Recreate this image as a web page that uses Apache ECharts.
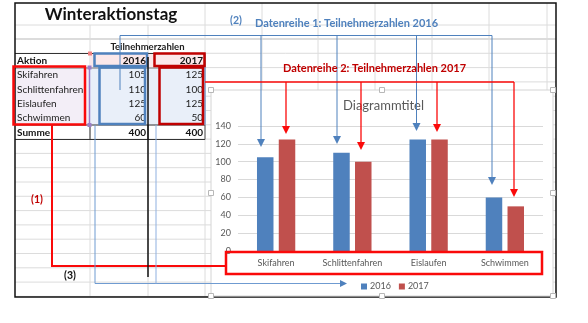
<!DOCTYPE html>
<html><head><meta charset="utf-8">
<script src="https://cdn.jsdelivr.net/npm/echarts@6/dist/echarts.min.js"></script>
<style>html,body{margin:0;padding:0;background:#fff}#c{width:588px;height:323px}</style>
</head><body><div id="c"></div>
<script>
const categories = ['Skifahren', 'Schlittenfahren', 'Eislaufen', 'Schwimmen'];
const years = ['2016', '2017'];
const values2016 = [105, 110, 125, 60];
const values2017 = [125, 100, 125, 50];
const totals = [400, 400];
const tableTitle = 'Winteraktionstag';
const headerTitle = 'Teilnehmerzahlen';
const chartTitle = 'Diagrammtitel';
const note1 = 'Datenreihe 1: Teilnehmerzahlen 2016';
const note2 = 'Datenreihe 2: Teilnehmerzahlen 2017';

const FONT = 'Lato, "Open Sans", sans-serif';
const BLUE = '#4f81bd', RED = '#c0504d', DRED = '#c00000', BRIGHT = 'rgb(250,10,10)';
const G = [];
let uid = 0;
function line(pts, stroke, w, z) { G.push({type:'polyline', id:'e'+(uid++), z:z, silent:true, shape:{points:pts}, style:{stroke:stroke, lineWidth:w, fill:'none'}}); }
function rect(x, y, w, h, st, z) { G.push({type:'rect', id:'e'+(uid++), z:z, silent:true, shape:{x:x, y:y, width:w, height:h}, style:st}); }
function text(t, x, y, st, z) { G.push({type:'text', id:'e'+(uid++), z:z, silent:true, x:x, y:y, style:Object.assign({text:t, fontFamily:FONT, verticalAlign:'middle'}, st)}); }
function tri(pts, col, z) { G.push({type:'polygon', id:'e'+(uid++), z:z, silent:true, shape:{points:pts}, style:{fill:col, stroke:'none'}}); }
function arrow(x, tip, col, z) { tri([[x-4, tip-8],[x+4, tip-8],[x, tip]], col, z); }

// spreadsheet gridlines
const hy = [25]; for (let y = 39; y < 297; y += 14.3) hy.push(y);
hy.forEach((y, i) => line([[15, y],[556, y]], '#dcdcdc', i === 1 ? 2 : 1, -9));
[90, 148].forEach(x => line([[x, 25],[x, 297]], '#dcdcdc', 1, -9));
[205, 262, 318, 375, 432, 489, 547].forEach(x => line([[x, 3],[x, 297]], '#dcdcdc', 1, -9));

// table fills
rect(90, 53.5, 115, 14.5, {fill:'#fbe8ea'}, -8);
rect(15, 68, 75, 57, {fill:'#f3eef7'}, -8);
rect(90, 68, 115, 57, {fill:'#e9eff9'}, -8);

// table borders
line([[15, 53.5],[205, 53.5]], '#333', 1, -7);
line([[15, 68],[205, 68]], '#777', 1, -7);
line([[15, 125],[205, 125]], '#333', 1, -7);
line([[15, 139.5],[205, 139.5]], '#333', 1, -7);
line([[90, 125],[90, 139.5]], '#333', 1, -7);
line([[148, 125],[148, 139.5]], '#333', 1, -7);
line([[205, 53.5],[205, 139.5]], '#555', 1, -7);
line([[89.5, 67],[89.5, 125]], '#9b7fc8', 1.5, -7);
line([[205, 67],[205, 125]], '#8fb0e0', 1.5, -7);
rect(87.5, 123, 4, 4, {fill:'#9b7fc8'}, -7);
rect(87.5, 65.5, 4, 4, {fill:'#9b7fc8'}, -7);
rect(88, 51.5, 4, 4, {fill:'#f08080'}, -7);

// table texts
text(tableTitle, 111, 15, {fontSize:17, fontWeight:'bold', fill:'#111', align:'center'}, -6);
text(headerTitle, 147.5, 46.5, {fontSize:9.5, fontWeight:'bold', fill:'#222', align:'center'}, -6);
text('Aktion', 17, 61, {fontSize:10, fontWeight:'bold', fill:'#111'}, -6);
text(years[0], 146, 61, {fontSize:10, fontWeight:'bold', fill:'#111', align:'right'}, -6);
text(years[1], 203, 61, {fontSize:10, fontWeight:'bold', fill:'#111', align:'right'}, -6);
categories.forEach((c, i) => {
  const y = 75.2 + i * 14.3;
  text(c, 17, y, {fontSize:10, fill:'#222'}, -6);
  text(String(values2016[i]), 146, y, {fontSize:10, fill:'#222', align:'right'}, -6);
  text(String(values2017[i]), 203, y, {fontSize:10, fill:'#222', align:'right'}, -6);
});
text('Summe', 17, 132.5, {fontSize:10, fontWeight:'bold', fill:'#111'}, -6);
text(String(totals[0]), 146, 132.5, {fontSize:10, fontWeight:'bold', fill:'#111', align:'right'}, -6);
text(String(totals[1]), 203, 132.5, {fontSize:10, fontWeight:'bold', fill:'#111', align:'right'}, -6);

// outer frame
rect(15, 3, 541, 294, {fill:'none', stroke:'#111', lineWidth:1.5}, -2);

// chart box
rect(211, 90, 342, 206, {fill:'#fff', stroke:'#d4d4d4', lineWidth:1}, -1);
[[211,90],[382,90],[553,90],[211,193],[553,193],[211,296],[382,296],[553,296]].forEach(p =>
  rect(p[0]-2.5, p[1]-2.5, 5, 5, {fill:'#fff', stroke:'#b8b8b8', lineWidth:1}, -1));

// annotations (1)
const AZ = 20;
rect(13.5, 66.5, 71.5, 58, {fill:'none', stroke:BRIGHT, lineWidth:2.5}, AZ);
line([[52, 125],[52, 266],[226, 266]], BRIGHT, 2, AZ);
rect(226, 252, 316, 22, {fill:'none', stroke:BRIGHT, lineWidth:2.5}, AZ);
text('(1)', 31, 200, {fontSize:10.5, fontWeight:'bold', fill:DRED}, AZ);

// annotations (2) blue series 2016
rect(94.5, 53.5, 52.5, 12.5, {fill:'none', stroke:BLUE, lineWidth:2.5}, AZ);
rect(99.5, 67.5, 45.5, 56.5, {fill:'none', stroke:BLUE, lineWidth:2.5}, AZ);
line([[120, 90],[120, 35.5],[492, 35.5]], BLUE, 1, AZ);
[[261,147],[337,144],[416.5,131],[492,185]].forEach(a => { line([[a[0],35.5],[a[0],a[1]-6]], BLUE, 1, AZ); arrow(a[0], a[1], BLUE, AZ); });
text('(2)', 230, 20.5, {fontSize:10.5, fontWeight:'bold', fill:BLUE}, AZ);
text(note1, 255, 23, {fontSize:11, fontWeight:'bold', fill:BLUE}, AZ);

// annotations red series 2017
rect(154.5, 53.5, 50, 12.5, {fill:'none', stroke:DRED, lineWidth:2.5}, AZ);
rect(159.5, 67.5, 43.5, 56.5, {fill:'none', stroke:DRED, lineWidth:2.5}, AZ);
line([[205, 82],[514, 82]], BRIGHT, 1.3, AZ);
[[286,134],[361,150],[437,132],[514,197]].forEach(a => { line([[a[0],82],[a[0],a[1]-6]], BRIGHT, 1.3, AZ); arrow(a[0], a[1], BRIGHT, AZ); });
text(note2, 283, 68, {fontSize:11, fontWeight:'bold', fill:DRED}, AZ);

// annotations (3) legend
line([[95, 125],[95, 283.5],[340, 283.5]], '#6f9bd1', 1, AZ);
line([[156, 125],[156, 283.5]], '#8fb0e0', 1, AZ);
tri([[340,280],[340,287],[347,283.5]], BLUE, AZ);
line([[148, 57],[148, 277]], '#111', 1.5, AZ);
text('(3)', 64, 276, {fontSize:10.5, fontWeight:'bold', fill:'#111'}, AZ);

const chart = echarts.init(document.getElementById('c'), null, {renderer:'canvas'});
chart.setOption({
  animation:false,
  backgroundColor:'#fff',
  textStyle:{fontFamily:FONT},
  title:{text:chartTitle, left:343, top:99, padding:0, textStyle:{fontSize:13, fontWeight:'normal', color:'#595959', fontFamily:FONT}},
  legend:{data:years, left:356, top:277, icon:'rect', itemWidth:6, itemHeight:6, itemGap:8,
    textStyle:{fontSize:9, color:'#595959', fontFamily:FONT, padding:[0,0,0,-2]}},
  grid:{left:238, right:45, top:126, bottom:72},
  xAxis:{type:'category', data:categories,
    axisLine:{show:true, lineStyle:{color:'#d9d9d9'}}, axisTick:{show:false},
    axisLabel:{interval:0, fontSize:9, color:'#595959', margin:8, fontFamily:FONT}},
  yAxis:{type:'value', min:0, max:140, interval:20,
    axisLine:{show:false}, axisTick:{show:false},
    axisLabel:{fontSize:9, color:'#595959', margin:7, fontFamily:FONT},
    splitLine:{lineStyle:{color:'#d9d9d9'}}},
  series:[
    {name:years[0], type:'bar', data:values2016, barWidth:16.5, barGap:'32%', itemStyle:{color:BLUE}},
    {name:years[1], type:'bar', data:values2017, barWidth:16.5, barGap:'32%', itemStyle:{color:RED}}
  ],
  graphic:{elements:G}
});
</script></body></html>
